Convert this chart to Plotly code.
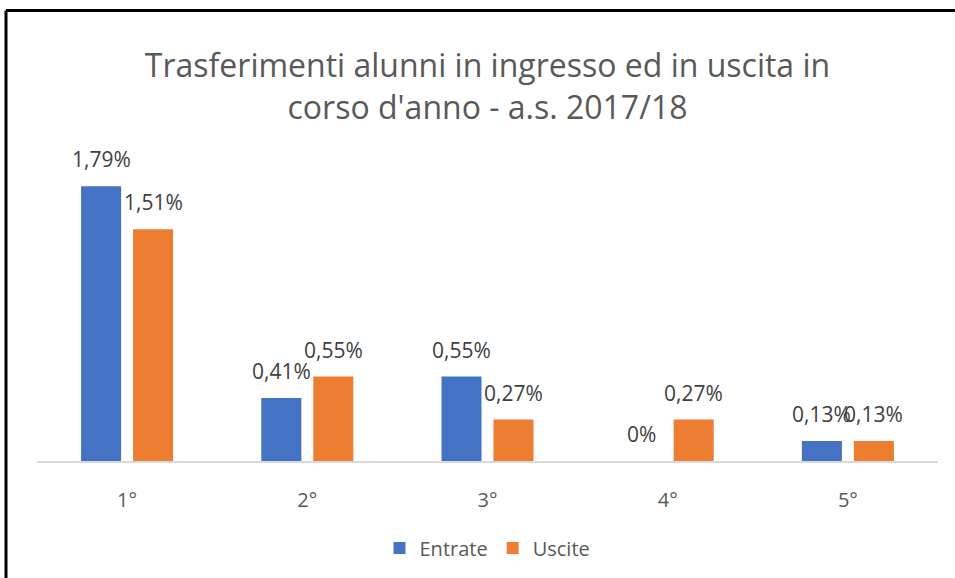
import plotly.graph_objects as go

categories = ["1°", "2°", "3°", "4°", "5°"]
entrate = [1.79, 0.41, 0.55, 0, 0.13]
uscite = [1.51, 0.55, 0.27, 0.27, 0.13]
title_text = "Trasferimenti alunni in ingresso ed in uscita in<br>corso d'anno - a.s. 2017/18"

BLUE = "#4472C4"
ORANGE = "#ED7D31"
FONT = "Open Sans"

W, H = 955, 578
L, R, T, B = 37, 17, 154, 116
pw = W - L - R
ph = H - T - B

def fmt(v):
    return f"{v:g}".replace(".", ",") + "%"

fig = go.Figure()
fig.add_trace(go.Bar(name="Entrate", x=categories, y=entrate, marker_color=BLUE,
                     marker_line_width=0))
fig.add_trace(go.Bar(name="Uscite", x=categories, y=uscite, marker_color=ORANGE,
                     marker_line_width=0))

annotations = []
for series, shift in ((entrate, -26), (uscite, 26)):
    for c, v in zip(categories, series):
        annotations.append(dict(x=c, y=v, xref="x", yref="y", text=fmt(v),
                                showarrow=False, xshift=shift, yanchor="bottom", yshift=11,
                                font=dict(family=FONT, size=21, color="#404040")))

def px(x):
    return (x - L) / pw

def py(y):
    return (H - B - y) / ph

shapes = [
    dict(type="line", xref="paper", yref="paper", x0=px(6), x1=px(960), y0=py(10), y1=py(10),
         line=dict(color="black", width=3)),
    dict(type="line", xref="paper", yref="paper", x0=px(6), x1=px(6), y0=py(10), y1=py(585),
         line=dict(color="black", width=3)),
]

fig.update_layout(
    width=W, height=H,
    margin=dict(l=L, r=R, t=T, b=B),
    paper_bgcolor="white", plot_bgcolor="white",
    barmode="group", bargap=0.423, bargroupgap=0.23,
    title=dict(text=title_text, x=0.5, xanchor="center", xref="paper",
               y=1 - 77 / H, yref="container", yanchor="middle",
               font=dict(family=FONT, size=32, color="#595959")),
    xaxis=dict(showline=True, linecolor="#D9D9D9", linewidth=2, ticks="",
               tickfont=dict(family=FONT, size=20, color="#595959"),
               ticklabelstandoff=20, showgrid=False, zeroline=False),
    yaxis=dict(range=[0, 2.0], visible=False, showgrid=False, zeroline=False),
    legend=dict(orientation="h", x=0.5, xanchor="center", y=py(548), yanchor="middle",
                font=dict(family=FONT, size=20, color="#595959"), traceorder="normal"),
    annotations=annotations,
    shapes=shapes,
    showlegend=True,
)

fig.write_html("out.html", config={"displayModeBar": False},
               post_script="document.body.style.margin='0';")
